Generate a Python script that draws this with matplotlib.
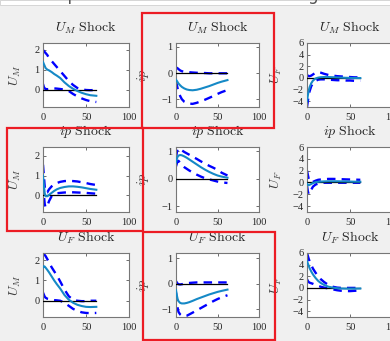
import matplotlib
matplotlib.use("Agg")
import matplotlib.pyplot as plt
from matplotlib.patches import Rectangle

# horizon (quarters) shared by every panel
horizon = [0, 1, 2, 3, 5, 7, 10, 13, 16, 20, 25, 30, 35, 40, 45, 50, 55, 62]

shocks = ["U_M", "ip", "U_F"]
variables = ["U_M", "ip", "U_F"]

# row 1: U_M shock
um_um_med = [1.4, 1.3, 1.2, 1.1, 1.02, 0.98, 0.9, 0.8, 0.72, 0.6, 0.38, 0.2, 0.06, -0.05, -0.14, -0.21, -0.26, -0.29]
um_um_hi = [2.0, 1.95, 1.9, 1.85, 1.75, 1.6, 1.45, 1.3, 1.15, 0.95, 0.7, 0.45, 0.25, 0.1, 0.03, 0.0, -0.01, 0.0]
um_um_lo = [0.3, 0.15, 0.08, 0.05, 0.04, 0.05, 0.07, 0.08, 0.07, 0.05, 0.02, -0.05, -0.2, -0.32, -0.42, -0.5, -0.56, -0.6]

um_ip_med = [-0.26, -0.3, -0.35, -0.4, -0.47, -0.53, -0.59, -0.63, -0.65, -0.66, -0.64, -0.6, -0.55, -0.5, -0.44, -0.38, -0.33, -0.27]
um_ip_hi = [0.18, 0.2, 0.18, 0.15, 0.1, 0.07, 0.05, 0.04, 0.03, 0.02, 0.01, 0.0, 0.0, -0.01, -0.01, -0.01, -0.01, -0.01]
um_ip_lo = [-0.3, -0.45, -0.6, -0.72, -0.88, -1.0, -1.1, -1.15, -1.17, -1.18, -1.14, -1.08, -1.02, -0.95, -0.88, -0.8, -0.73, -0.65]

um_uf_med = [-4.0, -3.0, -2.2, -1.6, -0.9, -0.45, -0.1, 0.05, 0.12, 0.15, 0.15, 0.12, 0.08, 0.05, 0.02, 0.0, -0.02, -0.03]
um_uf_hi = [0.5, 0.4, 0.3, 0.3, 0.4, 0.6, 0.9, 1.0, 0.9, 0.7, 0.5, 0.4, 0.3, 0.25, 0.2, 0.15, 0.1, 0.1]
um_uf_lo = [-5.0, -4.0, -3.0, -2.3, -1.4, -0.9, -0.5, -0.3, -0.25, -0.25, -0.3, -0.35, -0.4, -0.4, -0.45, -0.45, -0.5, -0.5]

# row 2: ip shock
ip_um_med = [1.0, 0.5, 0.1, -0.05, -0.05, 0.02, 0.12, 0.22, 0.3, 0.37, 0.42, 0.45, 0.45, 0.43, 0.4, 0.36, 0.32, 0.28]
ip_um_hi = [1.55, 1.0, 0.45, 0.15, 0.15, 0.3, 0.45, 0.55, 0.62, 0.68, 0.72, 0.73, 0.72, 0.7, 0.66, 0.62, 0.57, 0.52]
ip_um_lo = [0.6, 0.0, -0.45, -0.62, -0.55, -0.3, -0.05, 0.05, 0.1, 0.12, 0.14, 0.15, 0.15, 0.14, 0.13, 0.12, 0.1, 0.08]

ip_ip_med = [0.6, 0.72, 0.8, 0.84, 0.86, 0.85, 0.81, 0.76, 0.7, 0.62, 0.52, 0.42, 0.33, 0.25, 0.18, 0.12, 0.08, 0.04]
ip_ip_hi = [0.75, 0.95, 1.07, 1.1, 1.08, 1.03, 0.97, 0.92, 0.87, 0.8, 0.72, 0.63, 0.55, 0.47, 0.4, 0.32, 0.22, 0.12]
ip_ip_lo = [0.45, 0.55, 0.65, 0.65, 0.58, 0.5, 0.42, 0.36, 0.3, 0.23, 0.15, 0.08, 0.02, -0.02, -0.06, -0.1, -0.13, -0.15]

ip_uf_med = [-0.2, -0.4, -0.45, -0.4, -0.25, -0.1, 0.05, 0.1, 0.15, 0.18, 0.2, 0.2, 0.2, 0.18, 0.17, 0.15, 0.13, 0.12]
ip_uf_hi = [2.0, 1.3, 0.6, 0.2, 0.0, 0.1, 0.3, 0.45, 0.5, 0.55, 0.6, 0.6, 0.58, 0.55, 0.52, 0.5, 0.48, 0.45]
ip_uf_lo = [-0.5, -1.5, -2.0, -1.8, -1.2, -0.7, -0.35, -0.2, -0.1, -0.05, -0.05, -0.05, -0.05, -0.05, -0.05, -0.05, -0.05, -0.05]

# row 3: U_F shock
uf_um_med = [1.65, 1.7, 1.68, 1.63, 1.52, 1.4, 1.2, 1.0, 0.82, 0.6, 0.28, 0.05, -0.1, -0.2, -0.26, -0.3, -0.31, -0.3]
uf_um_hi = [2.3, 2.3, 2.25, 2.2, 2.05, 1.9, 1.65, 1.45, 1.25, 0.95, 0.55, 0.22, 0.05, 0.0, -0.02, -0.02, 0.0, 0.0]
uf_um_lo = [0.4, 0.3, 0.2, 0.15, 0.1, 0.08, 0.05, 0.03, 0.02, 0.0, -0.1, -0.25, -0.4, -0.5, -0.57, -0.6, -0.61, -0.6]

uf_ip_med = [-0.25, -0.45, -0.6, -0.68, -0.75, -0.77, -0.77, -0.75, -0.72, -0.67, -0.6, -0.54, -0.48, -0.42, -0.37, -0.32, -0.28, -0.23]
uf_ip_hi = [0.1, 0.05, 0.0, -0.02, -0.03, -0.02, 0.0, 0.02, 0.03, 0.04, 0.05, 0.05, 0.05, 0.05, 0.05, 0.05, 0.05, 0.05]
uf_ip_lo = [-0.35, -0.7, -0.95, -1.1, -1.2, -1.25, -1.27, -1.25, -1.2, -1.13, -1.04, -0.95, -0.86, -0.77, -0.68, -0.6, -0.53, -0.45]

uf_uf_med = [4.6, 4.2, 3.8, 3.4, 2.8, 2.3, 1.7, 1.2, 0.85, 0.5, 0.2, 0.05, -0.05, -0.1, -0.12, -0.12, -0.12, -0.1]
uf_uf_hi = [6.0, 5.5, 5.0, 4.6, 3.9, 3.3, 2.6, 2.0, 1.5, 1.0, 0.5, 0.2, 0.05, 0.0, 0.0, 0.0, 0.0, 0.0]
uf_uf_lo = [1.5, 1.2, 1.0, 0.9, 0.8, 0.7, 0.5, 0.35, 0.2, 0.05, -0.1, -0.25, -0.4, -0.5, -0.55, -0.55, -0.5, -0.45]

panels = [
    [(um_um_med, um_um_hi, um_um_lo), (um_ip_med, um_ip_hi, um_ip_lo), (um_uf_med, um_uf_hi, um_uf_lo)],
    [(ip_um_med, ip_um_hi, ip_um_lo), (ip_ip_med, ip_ip_hi, ip_ip_lo), (ip_uf_med, ip_uf_hi, ip_uf_lo)],
    [(uf_um_med, uf_um_hi, uf_um_lo), (uf_ip_med, uf_ip_hi, uf_ip_lo), (uf_uf_med, uf_uf_hi, uf_uf_lo)],
]

ylims = [
    [(-0.85, 2.35), (-1.3, 1.15), (-5, 6)],
    [(-0.85, 2.45), (-1.2, 1.15), (-5, 6)],
    [(-0.8, 2.35), (-1.3, 1.2), (-5, 6)],
]
yticks = [[0, 1, 2], [-1, 0, 1], [-4, -2, 0, 2, 4, 6]]

plt.rcParams['font.family'] = 'serif'
plt.rcParams['font.serif'] = ['Liberation Serif', 'DejaVu Serif']
plt.rcParams['mathtext.fontset'] = 'cm'

W, H = 390, 341
fig = plt.figure(figsize=(W / 100, H / 100), dpi=100, facecolor='#f0f0f0')

def px_box(x0, y0, x1, y1):
    """pixel box (top-left origin) -> figure fraction rect"""
    return [x0 / W, 1 - y1 / H, (x1 - x0) / W, (y1 - y0) / H]

col_x = [(43, 129), (176, 259), (307, 393)]
row_y = [(43, 107), (147, 212), (253, 317)]
ylab_x = [-0.23, -0.30, -0.27]

for r in range(3):
    for c in range(3):
        ax = fig.add_axes(px_box(col_x[c][0], row_y[r][0], col_x[c][1], row_y[r][1]))
        med, hi, lo = panels[r][c]
        ax.plot(horizon, hi, color='#0000ff', lw=1.7, ls=(0, (3.6, 2.6)), zorder=2)
        ax.plot(horizon, lo, color='#0000ff', lw=1.7, ls=(0, (3.6, 2.6)), zorder=2)
        ax.plot(horizon, [0] * len(horizon), color='black', lw=0.9, zorder=3)
        ax.plot(horizon, med, color='#1589c6', lw=1.5, zorder=4)
        ax.set_xlim(0, 100)
        ax.set_ylim(*ylims[r][c])
        ax.set_xticks([0, 50, 100])
        ax.set_yticks(yticks[c])
        ax.tick_params(direction='in', top=True, right=True, length=2.5, width=0.6,
                       labelsize=7.5, colors='#555555', labelcolor='#262626')
        ax.tick_params(axis='x', pad=4.5)
        ax.tick_params(axis='y', pad=2.5)
        for s in ax.spines.values():
            s.set_color('#777777')
            s.set_linewidth(0.8)
        ax.set_facecolor('white')
        ax.text(0.5, 1 + 15 / 64, r'$%s\ \mathrm{Shock}$' % shocks[r],
                transform=ax.transAxes, ha='center', va='center', fontsize=10, color='#262626')
        ax.set_ylabel(r'$%s$' % variables[c], fontsize=10, color='#404040')
        ax.yaxis.set_label_coords(ylab_x[c], 0.5)

# white strip with the clipped figure heading
fig.patches.append(Rectangle((0, 1 - 5 / H), 1, 5 / H, transform=fig.transFigure,
                             facecolor='white', edgecolor='#d0d0d0', linewidth=0.6, zorder=0))
fig.text(0.5, 1 - 0.5 / H, 'Impulse responses with backward-looking uncertainty',
         ha='center', va='baseline', fontsize=12, color='#555555', family='DejaVu Sans')

# red highlight boxes
for x0, y0, x1, y1 in [(142, 13, 274, 128), (7, 128, 143, 231), (143, 232, 275, 340)]:
    fig.patches.append(Rectangle((x0 / W, 1 - y1 / H), (x1 - x0) / W, (y1 - y0) / H,
                                 transform=fig.transFigure, fill=False,
                                 edgecolor='#ec1c24', linewidth=1.6, zorder=10))

fig.savefig('out.png', dpi=100, facecolor=fig.get_facecolor())
